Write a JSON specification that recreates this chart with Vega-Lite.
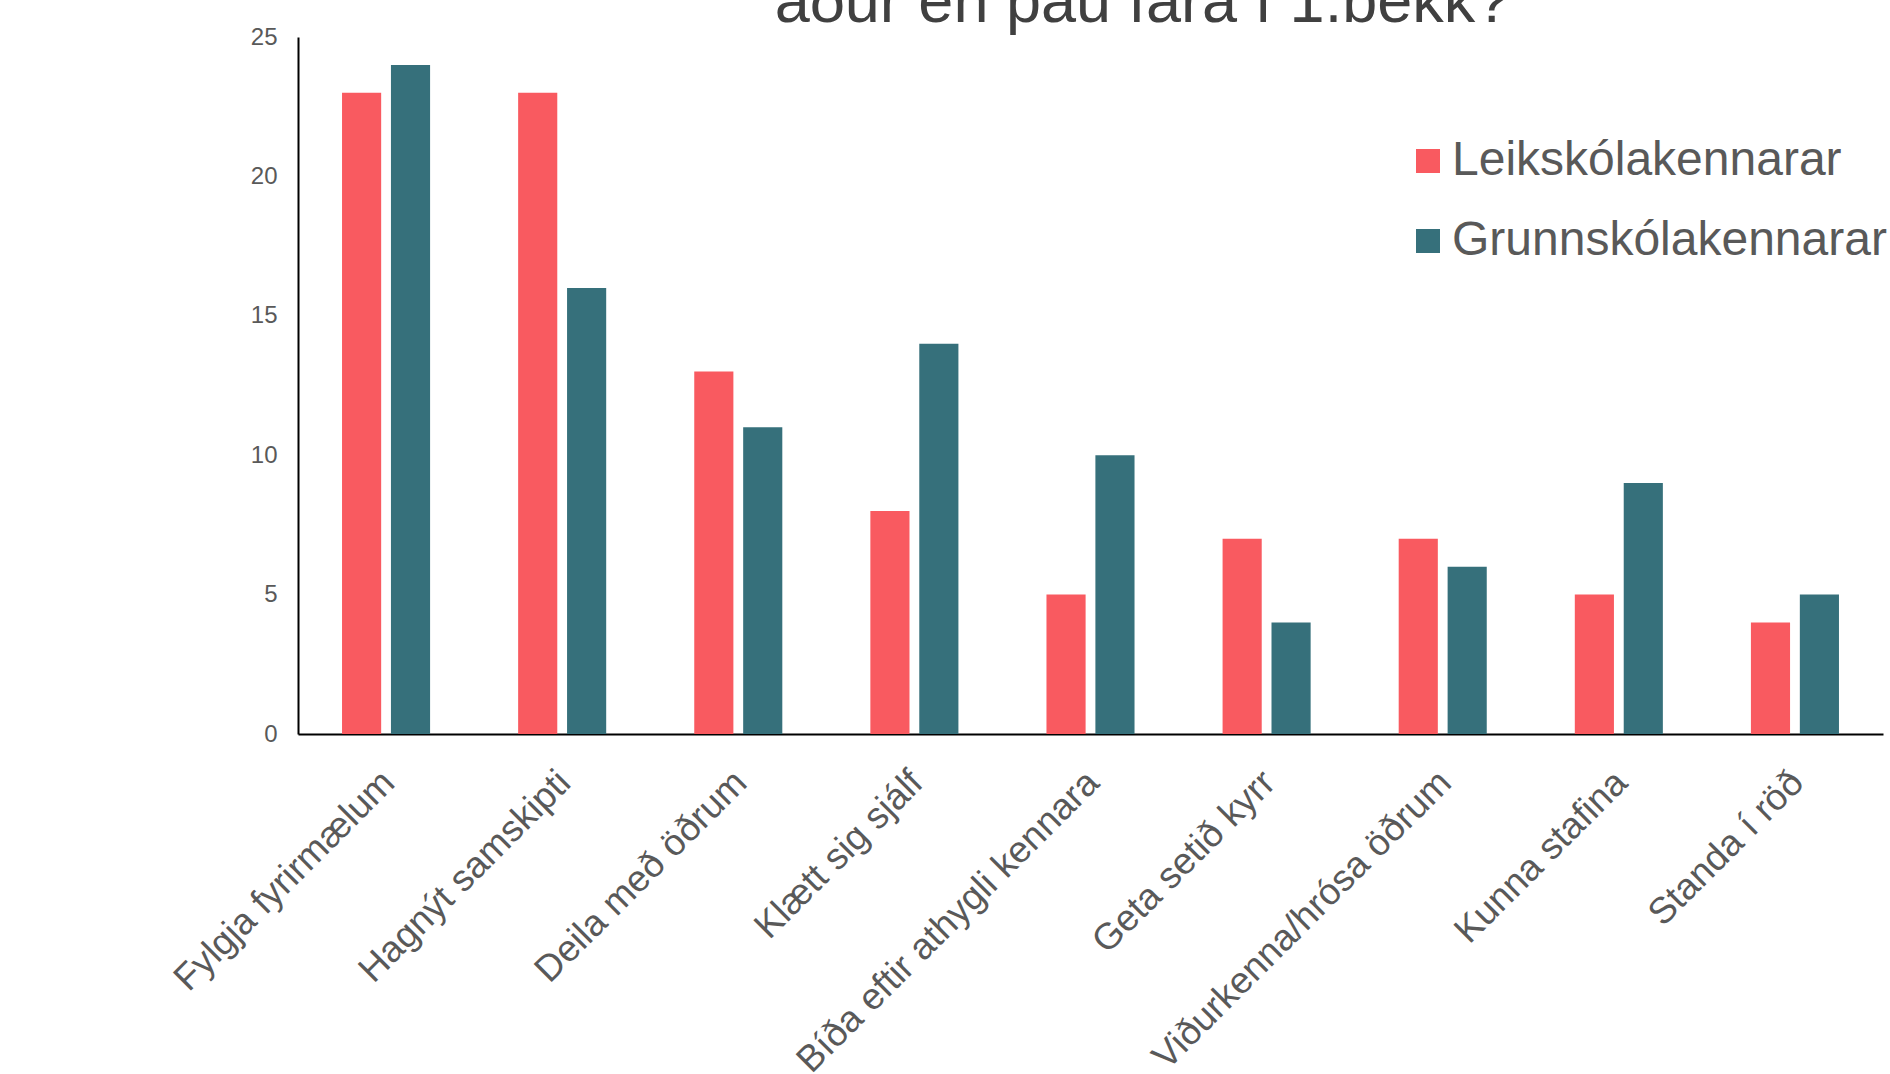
{
  "$schema": "https://vega.github.io/schema/vega-lite/v6.json",
  "autosize": {"type": "none"},
  "width": 1585,
  "height": 697,
  "padding": {"left": 298, "top": 37, "right": 7, "bottom": 340},
  "background": "white",
  "title": {
    "text": "áður en þau fara í 1.bekk?",
    "fontSize": 63,
    "font": "Liberation Sans",
    "fontWeight": "normal",
    "color": "#404040",
    "anchor": "middle",
    "dx": 52,
    "dy": 60,
    "baseline": "alphabetic",
    "offset": 0
  },
  "data": {
    "values": [
      {"flokkur": "Fylgja fyrirmælum", "hopur": "Leikskólakennarar", "fjoldi": 23},
      {"flokkur": "Fylgja fyrirmælum", "hopur": "Grunnskólakennarar", "fjoldi": 24},
      {"flokkur": "Hagnýt samskipti", "hopur": "Leikskólakennarar", "fjoldi": 23},
      {"flokkur": "Hagnýt samskipti", "hopur": "Grunnskólakennarar", "fjoldi": 16},
      {"flokkur": "Deila með öðrum", "hopur": "Leikskólakennarar", "fjoldi": 13},
      {"flokkur": "Deila með öðrum", "hopur": "Grunnskólakennarar", "fjoldi": 11},
      {"flokkur": "Klætt sig sjálf", "hopur": "Leikskólakennarar", "fjoldi": 8},
      {"flokkur": "Klætt sig sjálf", "hopur": "Grunnskólakennarar", "fjoldi": 14},
      {"flokkur": "Bíða eftir athygli kennara", "hopur": "Leikskólakennarar", "fjoldi": 5},
      {"flokkur": "Bíða eftir athygli kennara", "hopur": "Grunnskólakennarar", "fjoldi": 10},
      {"flokkur": "Geta setið kyrr", "hopur": "Leikskólakennarar", "fjoldi": 7},
      {"flokkur": "Geta setið kyrr", "hopur": "Grunnskólakennarar", "fjoldi": 4},
      {"flokkur": "Viðurkenna/hrósa öðrum", "hopur": "Leikskólakennarar", "fjoldi": 7},
      {"flokkur": "Viðurkenna/hrósa öðrum", "hopur": "Grunnskólakennarar", "fjoldi": 6},
      {"flokkur": "Kunna stafina", "hopur": "Leikskólakennarar", "fjoldi": 5},
      {"flokkur": "Kunna stafina", "hopur": "Grunnskólakennarar", "fjoldi": 9},
      {"flokkur": "Standa í röð", "hopur": "Leikskólakennarar", "fjoldi": 4},
      {"flokkur": "Standa í röð", "hopur": "Grunnskólakennarar", "fjoldi": 5}
    ]
  },
  "mark": {"type": "bar"},
  "encoding": {
    "x": {
      "field": "flokkur",
      "type": "nominal",
      "sort": null,
      "scale": {"paddingInner": 0.5, "paddingOuter": 0.25},
      "axis": {
        "title": null,
        "labelAngle": -45,
        "labelFontSize": 37,
        "labelFont": "Liberation Sans",
        "labelColor": "#595959",
        "labelLimit": 0,
        "labelPadding": 30,
        "labelOffset": -10,
        "ticks": false,
        "domainColor": "#000000",
        "domainWidth": 2,
        "grid": false
      }
    },
    "xOffset": {
      "field": "hopur",
      "type": "nominal",
      "sort": ["Leikskólakennarar", "Grunnskólakennarar"],
      "scale": {"paddingInner": 0.2, "paddingOuter": 0}
    },
    "y": {
      "field": "fjoldi",
      "type": "quantitative",
      "scale": {"domain": [0, 25], "nice": false},
      "axis": {
        "title": null,
        "values": [0, 5, 10, 15, 20, 25],
        "labelFontSize": 24,
        "labelFont": "Liberation Sans",
        "labelColor": "#595959",
        "labelPadding": 21,
        "ticks": false,
        "grid": false,
        "domainColor": "#000000",
        "domainWidth": 2
      }
    },
    "color": {
      "field": "hopur",
      "type": "nominal",
      "sort": ["Leikskólakennarar", "Grunnskólakennarar"],
      "scale": {"domain": ["Leikskólakennarar", "Grunnskólakennarar"], "range": ["#F95A60", "#36707B"]},
      "legend": {
        "title": null,
        "orient": "none",
        "legendX": 1106,
        "legendY": 100,
        "symbolType": "square",
        "symbolSize": 576,
        "symbolStrokeWidth": 0,
        "labelFontSize": 48,
        "labelFont": "Liberation Sans",
        "labelColor": "#595959",
        "labelOffset": 0,
        "labelLimit": 0,
        "rowPadding": 32
      }
    }
  },
  "config": {"view": {"stroke": null}}
}
